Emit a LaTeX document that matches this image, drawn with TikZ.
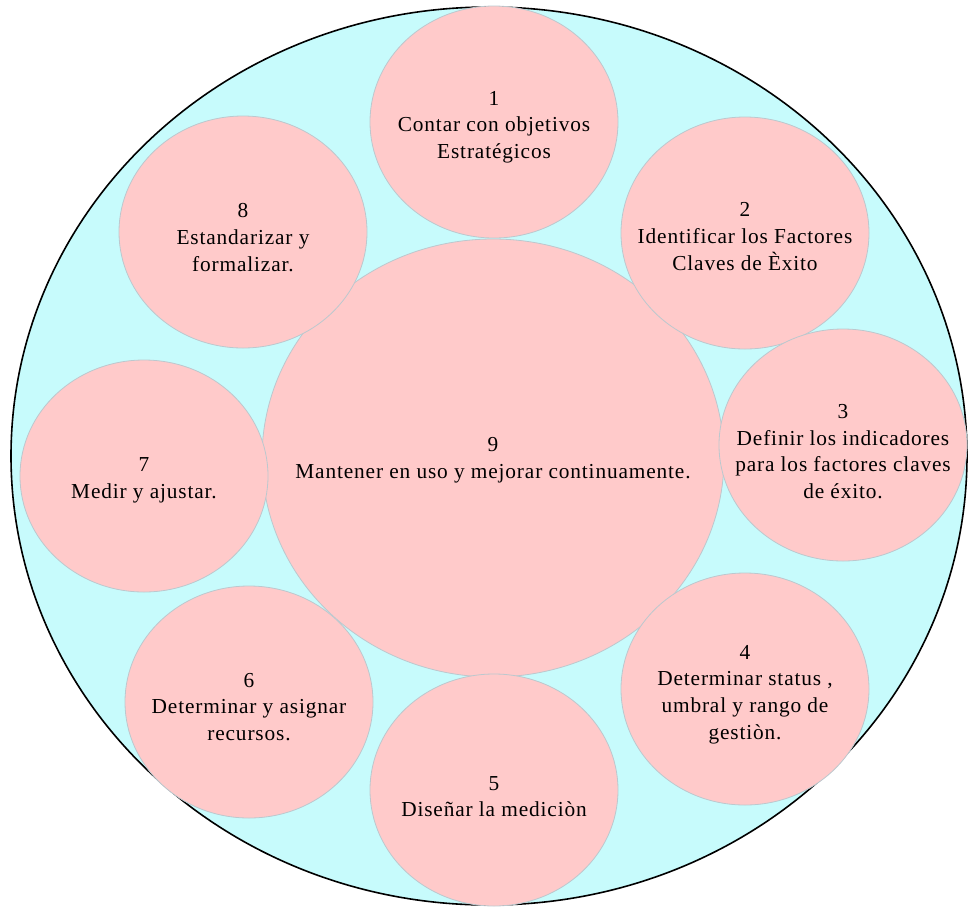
\documentclass[tikz,border=0pt]{standalone}
\usepackage{fontspec}
\newfontfamily\pasofont{Liberation Serif}[LetterSpace=4]
\usetikzlibrary{shapes.geometric}

\definecolor{fondo}{RGB}{199,251,252}
\definecolor{rosa}{RGB}{255,202,202}
\definecolor{borde}{RGB}{188,200,206}

\tikzset{every picture/.style={line width=0.75pt}}
\tikzset{
  paso/.style={ellipse, draw=borde, fill=rosa, line width=0.6pt, inner sep=0pt,
    minimum width=186pt, minimum height=174pt},
  texto/.style={align=center, inner sep=0.75pt,
    font=\pasofont\fontsize{16}{20}\selectfont},
}

\begin{document}
\begin{tikzpicture}[x=0.75pt,y=0.75pt,yscale=-1,xscale=1]
\useasboundingbox (0,0) rectangle (968,908);

%Outer ellipse
\node [ellipse, draw=black, fill=fondo, line width=1.2pt, inner sep=0pt,
  minimum width=717pt, minimum height=673.5pt] (marco) at (489,456) {};

%Central step
\node [paso, minimum width=346.5pt, minimum height=328.5pt] (c9) at (493,458) {};

%Steps around it
\node [paso] (c1) at (494,122) {};
\node [paso] (c2) at (745,233) {};
\node [paso] (c3) at (843,445) {};
\node [paso] (c4) at (745,689) {};
\node [paso] (c5) at (494,790) {};
\node [paso] (c6) at (249,702) {};
\node [paso] (c7) at (144,476) {};
\node [paso] (c8) at (243,232) {};

% Text Node
\node [texto] (t9) at (493,460) {9\\Mantener en uso y mejorar continuamente.};
% Text Node
\node [texto] (t1) at (494,127) {1\\Contar con objetivos\\Estratégicos};
% Text Node
\node [texto] (t2) at (745,236.5) {2\\Identificar los Factores\\Claves de Èxito};
% Text Node
\node [texto] (t3) at (843,451.5) {3\\Definir los indicadores\\para los factores claves\\de éxito.};
% Text Node
\node [texto] (t4) at (745,694.5) {4\\Determinar status ,\\umbral y rango de\\gestiòn.};
% Text Node
\node [texto] (t5) at (494,796.5) {5\\Diseñar la mediciòn};
% Text Node
\node [texto] (t6) at (249,707) {6\\Determinar y asignar\\recursos.};
% Text Node
\node [texto] (t7) at (144,480.5) {7\\Medir y ajustar.};
% Text Node
\node [texto] (t8) at (243,237.5) {8\\Estandarizar y\\formalizar.};

\end{tikzpicture}
\end{document}
